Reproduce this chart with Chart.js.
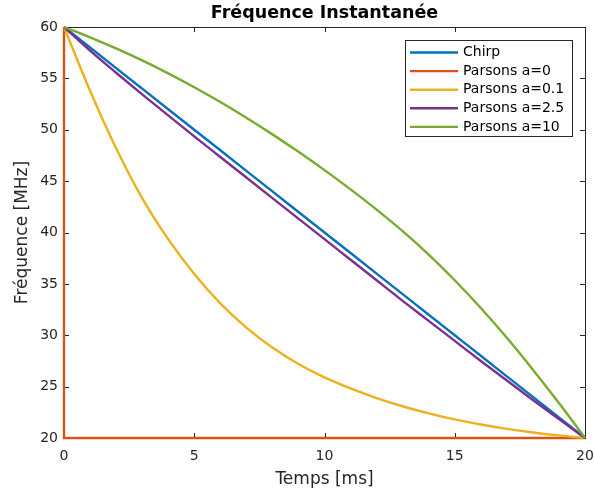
<!DOCTYPE html>
<html>
<head>
<meta charset="utf-8">
<script src="https://cdn.jsdelivr.net/npm/chart.js@4.4.1/dist/chart.umd.min.js"></script>
<style>
  html, body { margin: 0; padding: 0; background: #fff; }
</style>
</head>
<body>
<canvas id="chart1" width="594" height="490"></canvas>
<script>
// time axis (ms) and frequencies (MHz)
const timeMs = [0, 1, 2, 3, 4, 5, 6, 7, 8, 9, 10, 11, 12, 13, 14, 15, 16, 17, 18, 19, 20];
const chirp = [60, 58, 56, 54, 52, 50, 48, 46, 44, 42, 40, 38, 36, 34, 32, 30, 28, 26, 24, 22, 20];
const parsonsZeroTime = [0, 0, 20];
const parsonsZero = [60, 20, 20];
const parsons01 = [60, 53.8, 48.2, 43.35, 39.35, 35.95, 33.1, 30.75, 28.8, 27.2, 25.9, 24.82, 23.89, 23.09, 22.4, 21.81, 21.31, 20.89, 20.54, 20.25, 20];
const parsons25 = [60, 57.7, 55.55, 53.45, 51.4, 49.35, 47.35, 45.35, 43.35, 41.35, 39.35, 37.35, 35.35, 33.35, 31.4, 29.45, 27.5, 25.6, 23.7, 21.85, 20];
const parsons10 = [60, 59.0, 57.92, 56.75, 55.49, 54.14, 52.7, 51.17, 49.55, 47.85, 46.07, 44.2, 42.23, 40.13, 37.85, 35.35, 32.65, 29.75, 26.65, 23.4, 20];

const seriesNames = ['Chirp', 'Parsons a=0', 'Parsons a=0.1', 'Parsons a=2.5', 'Parsons a=10'];
const xTicks = [0, 5, 10, 15, 20];
const yTicks = [20, 25, 30, 35, 40, 45, 50, 55, 60];
const colors = ['#0072BD', '#D95319', '#EDB120', '#7E2F8E', '#77AC30'];
const font = 'DejaVu Sans';
const chartTitle = 'Fréquence Instantanée';

function toPoints(xs, ys) {
    return xs.map((x, i) => ({x: x, y: ys[i]}));
}

const seriesData = [
    toPoints(timeMs, chirp),
    toPoints(parsonsZeroTime, parsonsZero),
    toPoints(timeMs, parsons01),
    toPoints(timeMs, parsons25),
    toPoints(timeMs, parsons10)
];

// matlab style box with inward ticks, title centred over the axes
const boxPlugin = {
    id: 'box',
    beforeDatasetsDraw(chart) {
        const ctx = chart.ctx;
        const a = chart.chartArea;
        const x = chart.scales.x, y = chart.scales.y;
        ctx.save();
        ctx.strokeStyle = '#262626';
        ctx.lineWidth = 1;
        ctx.strokeRect(a.left + 0.5, a.top + 0.5, a.right - a.left, a.bottom - a.top);
        ctx.beginPath();
        xTicks.forEach(v => {
            const px = Math.round(x.getPixelForValue(v)) + 0.5;
            ctx.moveTo(px, a.bottom); ctx.lineTo(px, a.bottom - 5);
            ctx.moveTo(px, a.top); ctx.lineTo(px, a.top + 5);
        });
        yTicks.forEach(v => {
            const py = Math.round(y.getPixelForValue(v)) + 0.5;
            ctx.moveTo(a.left, py); ctx.lineTo(a.left + 5, py);
            ctx.moveTo(a.right, py); ctx.lineTo(a.right - 5, py);
        });
        ctx.stroke();

        ctx.fillStyle = '#000';
        ctx.font = 'bold 17.5px "' + font + '"';
        ctx.textAlign = 'center';
        ctx.textBaseline = 'middle';
        ctx.fillText(chartTitle, (a.left + a.right) / 2, 13.5);
        ctx.restore();
    }
};

const legendPlugin = {
    id: 'boxLegend',
    afterDatasetsDraw(chart) {
        const ctx = chart.ctx;
        const left = 405.5, top = 40.5, w = 167, h = 96;
        ctx.save();
        ctx.fillStyle = '#fff';
        ctx.fillRect(left, top, w, h);
        ctx.strokeStyle = '#262626';
        ctx.lineWidth = 1;
        ctx.strokeRect(left, top, w, h);
        ctx.font = '14px "' + font + '"';
        ctx.textBaseline = 'middle';
        ctx.textAlign = 'left';
        seriesNames.forEach((name, i) => {
            const cy = 52.5 + i * 18.6;
            ctx.strokeStyle = colors[i];
            ctx.lineWidth = 2.4;
            ctx.beginPath();
            ctx.moveTo(410, cy); ctx.lineTo(458, cy);
            ctx.stroke();
            ctx.fillStyle = '#000';
            ctx.fillText(name, 463, cy);
        });
        ctx.restore();
    }
};

new Chart(document.getElementById('chart1').getContext('2d'), {
    type: 'line',
    data: {
        datasets: seriesNames.map((name, i) => ({
            label: name,
            data: seriesData[i],
            borderColor: colors[i],
            backgroundColor: colors[i],
            borderWidth: 2.4,
            pointRadius: 0,
            fill: false,
            tension: 0,
            cubicInterpolationMode: i === 1 ? 'default' : 'monotone',
            order: 5 - i,
            clip: false
        }))
    },
    options: {
        responsive: false,
        animation: false,
        layout: {padding: {left: 0, right: 9, top: 27, bottom: 0}},
        plugins: {
            legend: {display: false},
            tooltip: {enabled: false},
            title: {display: false}
        },
        scales: {
            x: {
                type: 'linear',
                min: 0,
                max: 20,
                border: {display: false},
                grid: {display: false, drawTicks: false},
                ticks: {stepSize: 5, color: '#262626', font: {family: font, size: 14}, padding: 10, maxRotation: 0},
                title: {display: true, text: 'Temps [ms]', color: '#262626', font: {family: font, size: 17}, padding: {top: 3, bottom: 0}},
                afterFit(s) { s.height = 52; s.paddingLeft = 0; s.paddingRight = 0; }
            },
            y: {
                type: 'linear',
                min: 20,
                max: 60,
                border: {display: false},
                grid: {display: false, drawTicks: false},
                ticks: {stepSize: 5, color: '#262626', font: {family: font, size: 14}, padding: 6},
                title: {display: true, text: 'Fréquence [MHz]', color: '#262626', font: {family: font, size: 17}, padding: {top: 12, bottom: 0}},
                afterFit(s) { s.width = 64; s.paddingTop = 0; s.paddingBottom = 0; }
            }
        }
    },
    plugins: [boxPlugin, legendPlugin]
});
</script>
</body>
</html>
